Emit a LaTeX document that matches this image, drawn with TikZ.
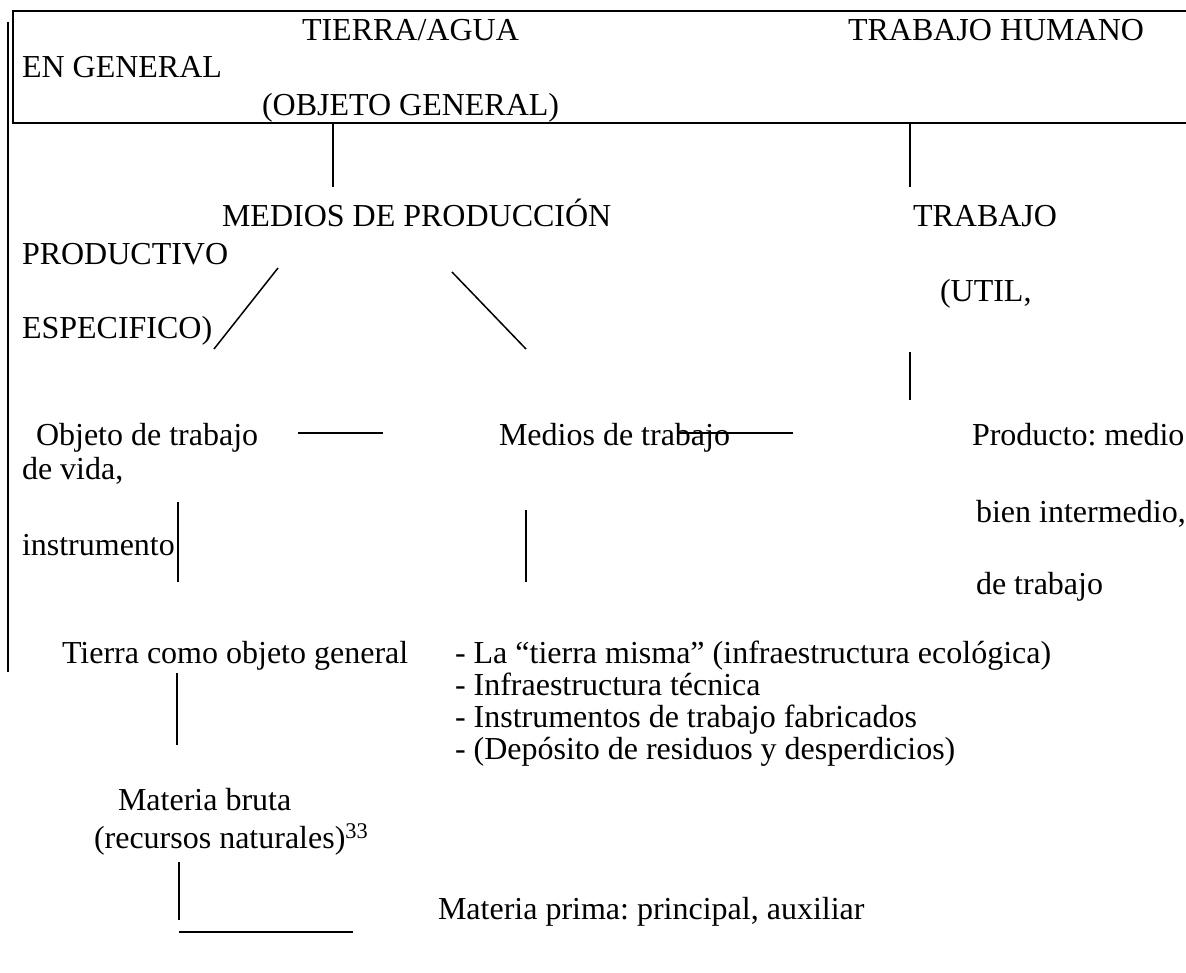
\documentclass[tikz,border=0pt]{standalone}
\usepackage{fontspec}
\setmainfont{Liberation Serif}
\frenchspacing
\begin{document}
\begin{tikzpicture}[x=1pt,y=-1pt,
  txt/.style={anchor=base west,inner sep=0pt,outer sep=0pt,font=\fontsize{32}{36}\selectfont},
  ln/.style={line width=1.5pt,black}]
\useasboundingbox[fill=white] (0,0) rectangle (1186,973);
% header box
\coordinate (bTL) at (13,11);
\coordinate (bTR) at (1186,11);
\coordinate (bBL) at (13,123);
\coordinate (bBR) at (1186,123);
\draw[ln] (bTR) -- (bTL) -- (bBL) -- (bBR);
\coordinate (outT) at (8,22);
\coordinate (outB) at (8,672);
\draw[ln] (outT) -- (outB);
% texts
\node[txt] (tierra) at (302,41) {TIERRA/AGUA};
\node[txt] (trabh) at (848,41) {TRABAJO HUMANO};
\node[txt] (engen) at (22,78) {EN GENERAL};
\node[txt] (objgen) at (262,116) {(OBJETO GENERAL)};
\node[txt] (medprod) at (222,227) {MEDIOS DE PRODUCCIÓN};
\node[txt] (trab) at (913,227) {TRABAJO};
\node[txt] (product) at (22,265) {PRODUCTIVO};
\node[txt] (util) at (940,302) {(UTIL,};
\node[txt] (espec) at (22,339) {ESPECIFICO)};
\node[txt] (objtrab) at (36,446) {Objeto de trabajo};
\node[txt] (medtrab) at (499,446) {Medios de trabajo};
\node[txt] (producto) at (972,446) {Producto: medio};
\node[txt] (devida) at (22,479) {de vida,};
\node[txt] (bien) at (976,522) {bien intermedio,};
\node[txt] (instr) at (22,555) {instrumento};
\node[txt] (detrab) at (976,594) {de trabajo};
\node[txt] (tcomo) at (62,663) {Tierra como objeto general};
\node[txt] (d1) at (455,663) {- La “tierra misma” (infraestructura ecológica)};
\node[txt] (d2) at (455,695) {- Infraestructura técnica};
\node[txt] (d3) at (455,727) {- Instrumentos de trabajo fabricados};
\node[txt] (d4) at (455,759) {- (Depósito de residuos y desperdicios)};
\node[txt] (mbruta) at (118,810) {Materia bruta};
\node[txt] (recnat) at (94,848) {(recursos naturales)\textsuperscript{33}};
\node[txt] (mprima) at (438,919) {Materia prima: principal, auxiliar};
% connectors
\coordinate (a1) at (333,123); \coordinate (a2) at (333,187);
\draw[ln] (a1) -- (a2);
\coordinate (b1) at (910,123); \coordinate (b2) at (910,187);
\draw[ln] (b1) -- (b2);
\coordinate (c1) at (278,268); \coordinate (c2) at (214,349);
\draw[ln] (c1) -- (c2);
\coordinate (e1) at (452,272); \coordinate (e2) at (526,349);
\draw[ln] (e1) -- (e2);
\coordinate (f1) at (910,352); \coordinate (f2) at (910,400);
\draw[ln] (f1) -- (f2);
\coordinate (g1) at (298,433); \coordinate (g2) at (383,433);
\draw[ln] (g1) -- (g2);
\coordinate (h1) at (679,433); \coordinate (h2) at (793,433);
\draw[ln] (h1) -- (h2);
\coordinate (i1) at (178,502); \coordinate (i2) at (178,582);
\draw[ln] (i1) -- (i2);
\coordinate (j1) at (526,510); \coordinate (j2) at (526,582);
\draw[ln] (j1) -- (j2);
\coordinate (k1) at (177,673); \coordinate (k2) at (177,745);
\draw[ln] (k1) -- (k2);
\coordinate (l1) at (179,862); \coordinate (l2) at (179,920);
\draw[ln] (l1) -- (l2);
\coordinate (m1) at (179,932); \coordinate (m2) at (353,932);
\draw[ln] (m1) -- (m2);
\end{tikzpicture}
\end{document}
